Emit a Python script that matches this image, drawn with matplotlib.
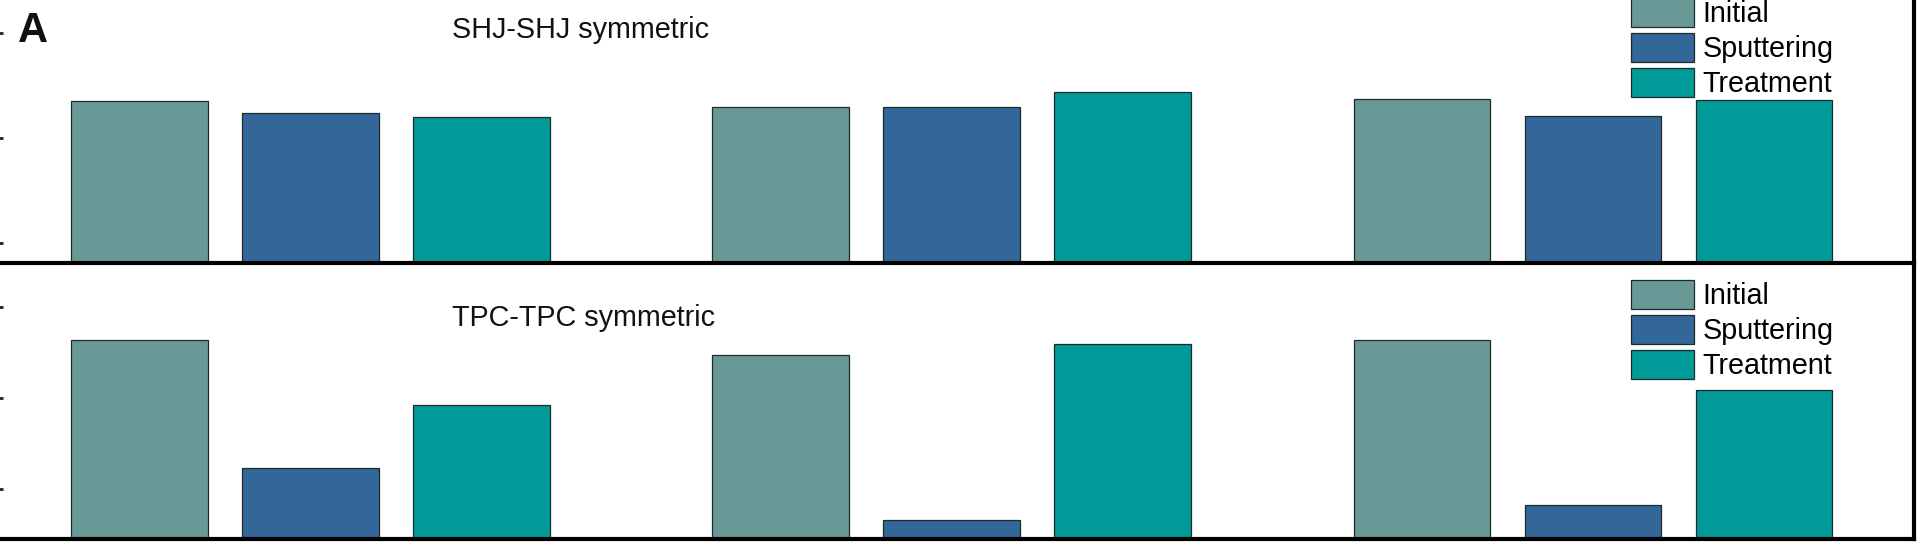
import numpy as np
import matplotlib
matplotlib.use("Agg")
import matplotlib.pyplot as plt

# ---- data (in axis tick units) ----
categories = ["Initial", "Sputtering", "Treatment"]
shj_initial = [2.35, 2.30, 2.37]
shj_sputtering = [2.24, 2.30, 2.21]
shj_treatment = [2.20, 2.44, 2.36]
tpc_initial = [2.64, 2.47, 2.63]
tpc_sputtering = [1.23, 0.66, 0.83]
tpc_treatment = [1.92, 2.59, 2.09]
panel_titles = ["SHJ-SHJ symmetric", "TPC-TPC symmetric"]
panel_label = "A"
yticks_vals = [1, 2, 3]

colors = ["#699997", "#336699", "#009a98"]

plt.rcParams["font.family"] = ["Liberation Sans", "DejaVu Sans"]

W, H = 1920, 552
fig = plt.figure(figsize=(W / 100, H / 100), dpi=100)


def fx(px):
    return px / W


def fy(py):
    return 1 - py / H


left_px, right_px = -5, 1914
# upper panel: from y=-20 px (above canvas) to 263.3 px
ax1 = fig.add_axes([fx(left_px), fy(263.3), (right_px - left_px) / W, (263.3 + 20) / H])
ax2 = fig.add_axes([fx(left_px), fy(539.3), (right_px - left_px) / W, (539.3 - 263.3) / H])

group_pos = np.arange(3) * 3.75
bar_w = 0.8
px_per_unit = 171.0
x0_px = 139.5
xlim = ((left_px - x0_px) / px_per_unit, (right_px - x0_px) / px_per_unit)

panels = [
    (ax1, [shj_initial, shj_sputtering, shj_treatment], (0.807, 3.505), panel_titles[0]),
    (ax2, [tpc_initial, tpc_sputtering, tpc_treatment], (0.452, 3.475), panel_titles[1]),
]

legend_tops = [-2.0, 280.0]
title_baselines = [37.7, 326.0]
fs = 20.7

for k, (ax, series, ylim, title) in enumerate(panels):
    handles = []
    for i, (vals, c, lab) in enumerate(zip(series, colors, categories)):
        h = ax.bar(group_pos + i, vals, width=bar_w, color=c, edgecolor="#1e2a2a",
                   linewidth=0.9, label=lab, zorder=1)
        handles.append(h)
    ax.set_xlim(*xlim)
    ax.set_ylim(*ylim)
    ax.set_yticks(yticks_vals)
    ax.tick_params(axis="y", direction="in", length=5.5, width=2.0, labelleft=False,
                   color="#222222")
    ax.tick_params(axis="x", bottom=False, labelbottom=False)
    for s in ["top", "left"]:
        ax.spines[s].set_visible(False)
    for s in ["bottom", "right"]:
        ax.spines[s].set_linewidth(3.0)
        ax.spines[s].set_color("black")
    ax.set_facecolor("none")
    leg = ax.legend(handles=handles, labels=categories, loc="upper left",
                    bbox_to_anchor=(fx(1631), fy(legend_tops[k])),
                    bbox_transform=fig.transFigure, frameon=False,
                    fontsize=fs, borderpad=0, borderaxespad=0,
                    handlelength=2.19, handleheight=1.2, handletextpad=0.3,
                    labelspacing=0.15)
    fig.text(fx(452), fy(title_baselines[k]), title, fontsize=fs, va="baseline",
             ha="left", color="#111111")

fig.text(fx(18), fy(42), panel_label, fontsize=30, fontweight="bold", va="baseline",
         ha="left", color="#111111")

fig.savefig("out.png", dpi=100, facecolor="white")
